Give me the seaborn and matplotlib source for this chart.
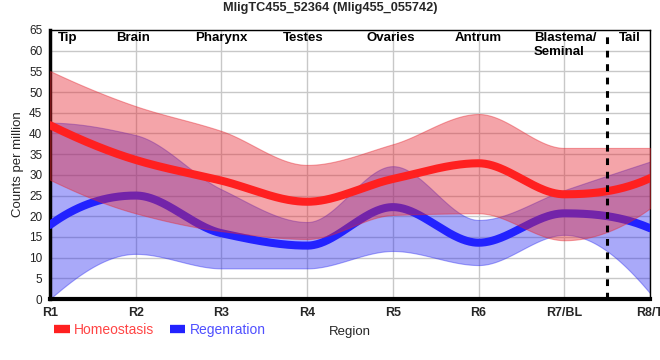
import numpy as np
import pandas as pd
import matplotlib
matplotlib.use('Agg')
import matplotlib.pyplot as plt
import seaborn as sns
from matplotlib.lines import Line2D

regions = ['R1', 'R2', 'R3', 'R4', 'R5', 'R6', 'R7/BL', 'R8/T']
tissues = ['Tip', 'Brain', 'Pharynx', 'Testes', 'Ovaries', 'Antrum', 'Blastema/\nSeminal', 'Tail']

homeo_mean = [42.0, 33.6, 28.6, 23.5, 29.0, 32.8, 25.3, 29.2]
homeo_low = [28.8, 20.7, 16.4, 14.5, 20.3, 20.7, 14.2, 21.9]
homeo_high = [55.1, 46.6, 40.6, 32.4, 37.4, 44.7, 36.5, 36.5]

regen_mean = [17.9, 25.0, 15.9, 12.9, 22.2, 13.6, 20.7, 17.1]
regen_low = [0.0, 10.9, 7.4, 7.4, 11.6, 8.2, 15.5, 1.4]
regen_high = [42.6, 39.6, 26.5, 18.6, 32.1, 19.1, 26.3, 33.2]

# where the tissue names sit along the axis (region index units)
tissue_x = [0.21, 0.97, 2.0, 2.95, 3.97, 5.0, 6.01, 6.77]
split_at = 6.5

RED = '#ff2020'
RED_BAND = '#e52832'
BLUE = '#2222ff'
BLUE_BAND = '#2828f0'


def pchip(x, y, xs):
    # monotone cubic (Fritsch-Carlson), used only to draw the smooth curve
    x = np.asarray(x, float)
    y = np.asarray(y, float)
    h = np.diff(x)
    d = np.diff(y) / h
    n = len(x)
    m = np.zeros(n)
    for k in range(1, n - 1):
        if d[k - 1] * d[k] > 0:
            w1 = 2 * h[k] + h[k - 1]
            w2 = h[k] + 2 * h[k - 1]
            m[k] = (w1 + w2) / (w1 / d[k - 1] + w2 / d[k])
    for i, (a, b, ha, hb) in enumerate([(d[0], d[1], h[0], h[1]), (d[-1], d[-2], h[-1], h[-2])]):
        e = ((2 * ha + hb) * a - ha * b) / (ha + hb)
        if np.sign(e) != np.sign(a):
            e = 0.0
        elif np.sign(a) != np.sign(b) and abs(e) > abs(3 * a):
            e = 3 * a
        m[0 if i == 0 else -1] = e
    idx = np.clip(np.searchsorted(x, xs) - 1, 0, n - 2)
    t = (xs - x[idx]) / h[idx]
    h00 = 2 * t**3 - 3 * t**2 + 1
    h10 = t**3 - 2 * t**2 + t
    h01 = -2 * t**3 + 3 * t**2
    h11 = t**3 - t**2
    return h00 * y[idx] + h10 * h[idx] * m[idx] + h01 * y[idx + 1] + h11 * h[idx] * m[idx + 1]


pos = np.arange(len(regions))
xs = np.linspace(0, len(regions) - 1, 500)
curves = pd.DataFrame({
    'x': xs,
    'homeo': pchip(pos, homeo_mean, xs),
    'homeo_lo': pchip(pos, homeo_low, xs),
    'homeo_hi': pchip(pos, homeo_high, xs),
    'regen': pchip(pos, regen_mean, xs),
    'regen_lo': pchip(pos, regen_low, xs),
    'regen_hi': pchip(pos, regen_high, xs),
})

sns.set_style('whitegrid', {'grid.color': '#c8c8c8', 'axes.edgecolor': 'black'})
plt.rcParams['font.family'] = ['Liberation Sans', 'DejaVu Sans']

fig = plt.figure(figsize=(6.6, 3.6), dpi=100)
ax = fig.add_axes([50 / 660, 61 / 360, 600 / 660, 269 / 360])

ax.fill_between(curves['x'], curves['regen_lo'], curves['regen_hi'], color=BLUE_BAND, alpha=0.4, lw=0.8, zorder=2)
sns.lineplot(data=curves, x='x', y='regen', color=BLUE, lw=5.8, ax=ax, zorder=3, legend=False)
ax.fill_between(curves['x'], curves['homeo_lo'], curves['homeo_hi'], color=RED_BAND, alpha=0.42, lw=0.8, zorder=4)
sns.lineplot(data=curves, x='x', y='homeo', color=RED, lw=5.8, ax=ax, zorder=5, legend=False)

ax.axvline(split_at, color='black', ls=(0, (2.2, 2.2)), lw=2.2, zorder=6)

for tx, name in zip(tissue_x, tissues):
    ax.text(tx, 64.4, name, ha='center', va='top', multialignment='left',
            fontsize=9.5, fontweight='bold', color='black', zorder=7, linespacing=1.2)

ax.set_xlim(0, len(regions) - 1)
ax.set_ylim(0, 65)
ax.set_xticks(pos)
ax.set_xticklabels(regions, fontsize=9, fontweight='bold')
ax.set_yticks(np.arange(0, 66, 5))
ax.tick_params(axis='y', labelsize=8.5, colors='#222222', pad=2)
ax.tick_params(axis='x', pad=2)
ax.grid(True, lw=1.0)
ax.set_axisbelow(True)
ax.set_xlabel('Region', fontsize=9.5, labelpad=5)
ax.set_ylabel('Counts per million', fontsize=9.5, labelpad=4)
for side in ['top', 'right']:
    ax.spines[side].set_linewidth(1.0)
ax.spines['left'].set_linewidth(2.5)
ax.spines['bottom'].set_linewidth(3.0)

fig.suptitle('MligTC455_52364 (Mlig455_055742)', x=330 / 660, y=1 - 2 / 360, va='top',
             fontsize=9.2, fontweight='bold')

handles = [Line2D([], [], color=RED, lw=6, solid_capstyle='butt'),
           Line2D([], [], color=BLUE, lw=6, solid_capstyle='butt')]
fig.legend(handles, ['Homeostasis', 'Regenration'], loc='center left',
           bbox_to_anchor=(42 / 660, 1 - 330 / 360), ncol=2, frameon=False,
           fontsize=10, handlelength=1.1, handletextpad=0.3, columnspacing=1.15,
           labelcolor=['#ff4545', '#5050ff'])

fig.savefig('out.png', dpi=100)
